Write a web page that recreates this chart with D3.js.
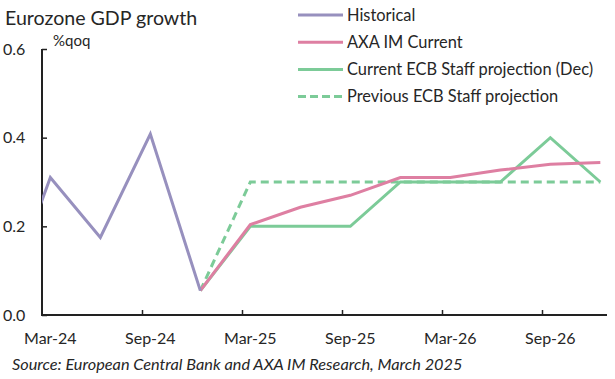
<!DOCTYPE html>
<html><head><meta charset="utf-8">
<script src="https://cdn.jsdelivr.net/npm/d3@7"></script>
<style>body{margin:0;background:#fff}svg{display:block}text{font-family:Lato,"Open Sans",sans-serif;fill:#262626}</style>
</head><body><svg id="c" width="615" height="379"></svg>
<script>
// quarters, month index relative to Mar-24 (0)
const quarters = ["Dec-23","Mar-24","Jun-24","Sep-24","Dec-24","Mar-25","Jun-25","Sep-25","Dec-25","Mar-26","Jun-26","Sep-26","Dec-26"];
const quarterMonth = [-3,0,3,6,9,12,15,18,21,24,27,30,33];
const historical = [0.0,0.31,0.175,0.408,0.055,null,null,null,null,null,null,null,null];
const axaCurrent = [null,null,null,null,0.055,0.204,0.243,0.27,0.31,0.31,0.327,0.34,0.344];
const ecbCurrent = [null,null,null,null,0.055,0.2,0.2,0.2,0.3,0.3,0.3,0.4,0.3];
const ecbPrevious = [null,null,null,null,0.055,0.3,0.3,0.3,0.3,0.3,0.3,0.3,0.3];
const xTickMonths = [0,6,12,18,24,30];
const xTickLabels = ["Mar-24","Sep-24","Mar-25","Sep-25","Mar-26","Sep-26"];
const yTicks = [0,0.2,0.4,0.6];
const seriesNames = ["Historical","AXA IM Current","Current ECB Staff projection (Dec)","Previous ECB Staff projection"];

const colors = ["#9790BE","#DE7FA2","#7CCB98","#7CCB98"];
const dashes = [null,null,null,"8,5"];
const svg = d3.select("#c");
const L=42, R=607, T=49, B=315;
const x = d3.scaleLinear().domain([0,33.9]).range([L,R]);
const y = d3.scaleLinear().domain([0,0.6]).range([B,T]);

svg.append("defs").append("clipPath").attr("id","clip").append("rect")
  .attr("x",L).attr("y",0).attr("width",R-L).attr("height",B);

// title
svg.append("text").attr("x",5).attr("y",25).style("font-size","19.6px").text("Eurozone GDP growth");
svg.append("text").attr("x",53).attr("y",46).style("font-size","15px").text("%qoq");

// y axis
const yAxis = svg.append("g").attr("transform",`translate(${L},0)`)
  .call(d3.axisRight(y).tickValues(yTicks).tickSize(5).tickFormat(""));
yAxis.select(".domain").remove();
yAxis.selectAll("line").attr("stroke","#222").attr("stroke-width",1.5);
svg.append("g").selectAll("text").data(yTicks).join("text")
  .attr("x",3).attr("y",d=>y(d)+5.5).style("font-size","16px").text(d3.format(".1f"));

// x axis
const xAxis = svg.append("g").attr("transform",`translate(0,${B})`)
  .call(d3.axisTop(x).tickValues(xTickMonths.slice(1)).tickSize(5).tickFormat(""));
xAxis.select(".domain").remove();
xAxis.selectAll("line").attr("stroke","#222").attr("stroke-width",1.5);
svg.append("g").selectAll("text").data(xTickMonths).join("text")
  .attr("x",(d)=>x(d+0.5)).attr("y",344).attr("text-anchor","middle").style("font-size","16px")
  .text((d,i)=>xTickLabels[i]);

svg.append("line").attr("x1",L).attr("x2",L).attr("y1",T).attr("y2",B+1).attr("stroke","#222").attr("stroke-width",2);
svg.append("line").attr("x1",L-1).attr("x2",R).attr("y1",B).attr("y2",B).attr("stroke","#222").attr("stroke-width",2);

// series
const allSeries = [historical,axaCurrent,ecbCurrent,ecbPrevious];
const line = d3.line().defined(d=>d.v!=null).x(d=>x(d.m+0.5)).y(d=>y(d.v));
const g = svg.append("g").attr("clip-path","url(#clip)");
[3,2,1,0].forEach(i=>{
  const data = quarterMonth.map((m,j)=>({m,v:allSeries[i][j]}));
  g.append("path").datum(data).attr("d",line).attr("fill","none")
   .attr("stroke",colors[i]).attr("stroke-width",3).attr("stroke-linejoin","miter")
   .attr("stroke-dasharray",dashes[i]);
});

// legend
const lg = svg.append("g");
seriesNames.forEach((n,i)=>{
  const yy = 15 + i*27.2;
  lg.append("line").attr("x1",298).attr("x2",343).attr("y1",yy).attr("y2",yy)
    .attr("stroke",colors[i]).attr("stroke-width",3).attr("stroke-dasharray",dashes[i]? "8,4":null);
  lg.append("text").attr("x",347).attr("y",yy+5.5).style("font-size","16.4px").text(n);
});

svg.append("text").attr("x",12).attr("y",370).style("font-size","16.3px").style("font-style","italic")
  .text("Source: European Central Bank and AXA IM Research, March 2025");
</script></body></html>
